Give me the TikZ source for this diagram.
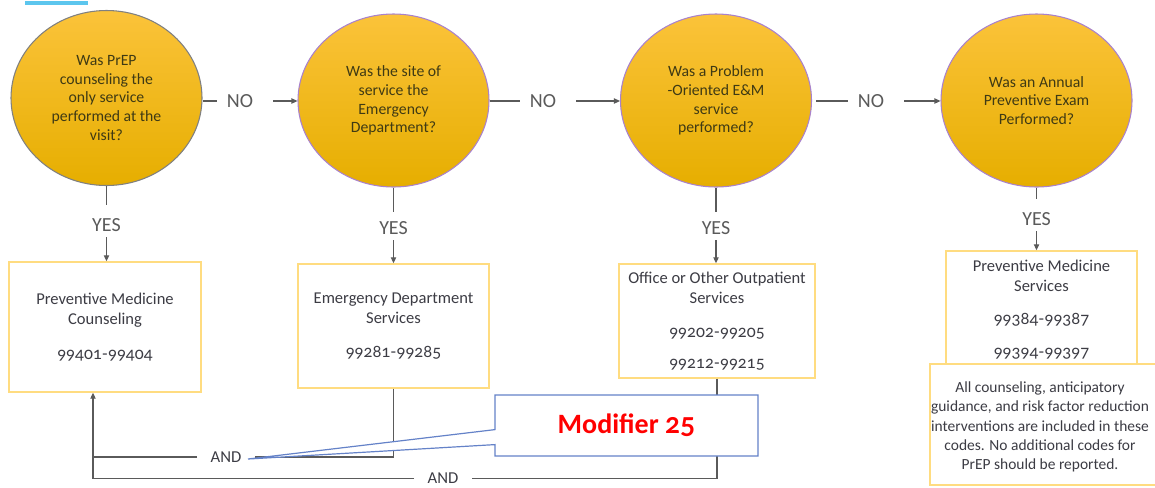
\documentclass[tikz,border=0pt]{standalone}
\usepackage{fontspec}
\setmainfont{Carlito}[Numbers=OldStyle]
\newfontfamily\oldnum{Lato}[Numbers=OldStyle]
\usetikzlibrary{shapes.geometric,shapes.callouts,arrows.meta}
\definecolor{gtop}{HTML}{FBC33A}
\definecolor{gmid}{HTML}{FFC000}
\definecolor{gbot}{HTML}{E6AE00}
\definecolor{qtext}{HTML}{3F3A14}
\definecolor{btext}{HTML}{3C3C44}
\definecolor{bborder}{HTML}{FFDC80}
\definecolor{purp}{HTML}{A982CC}
\definecolor{cgray}{HTML}{808080}
\definecolor{lgray}{HTML}{5A5A5A}
\definecolor{cblue}{HTML}{6482C8}
\definecolor{sky}{HTML}{5CC6EE}
\tikzset{
  question/.style={ellipse, draw=purp, line width=0.8pt, shading=axis,
    top color=gtop, middle color=gmid, bottom color=gbot,
    minimum width=143.25pt, minimum height=129.75pt, inner sep=0pt,
    align=center, text=qtext, font=\fontsize{11.8}{14}\selectfont},
  codebox/.style={rectangle, draw=bborder, line width=1.1pt, fill=white,
    align=center, text=btext, font=\fontsize{12.4}{15}\selectfont, inner sep=0pt},
  answer/.style={text=lgray, font=\fontsize{15}{18}\selectfont, inner sep=0pt},
  andlbl/.style={text=btext, font=\fontsize{12.5}{15}\selectfont, inner xsep=10pt, inner ysep=0pt},
  conn/.style={draw=lgray, line width=0.8pt},
  arr/.style={conn, -{Triangle[length=4.5pt,width=4pt]}},
}
\begin{document}
\begin{tikzpicture}[x=0.75pt,y=-0.75pt]
\useasboundingbox (0,0) rectangle (1155,487);
\draw[sky, line width=3pt] (25,3) -- (88,3);

% questions
\node[question, draw=cgray, minimum height=131.25pt] (c1) at (106.5,98)
  {Was PrEP\\counseling the\\only service\\performed at the\\visit?};
\node[question] (c2) at (393.5,100.5)
  {Was the site of\\service the\\Emergency\\Department?};
\node[question] (c3) at (716,100.5)
  {Was a Problem\\-Oriented E\&M\\service\\performed?};
\node[question] (c4) at (1036.5,100.5)
  {Was an Annual\\Preventive Exam\\Performed?};

% NO labels
\node[answer, inner xsep=7.5pt] (no1) at (240,101) {NO};
\node[answer, inner xsep=7.5pt] (no2) at (543,101) {NO};
\node[answer, inner xsep=7.5pt] (no3) at (871,101) {NO};
\draw[conn] (c1.east |- no1) -- (no1.west);
\draw[arr, shorten <=7.5pt] (no1.east) -- (c2.west |- no1);
\draw[conn] (c2.east |- no2) -- (no2.west);
\draw[arr, shorten <=7.5pt] (no2.east) -- (c3.west |- no2);
\draw[conn, shorten <=3pt] (c3.east |- no3) -- (no3.west);
\draw[arr, shorten <=7.5pt] (no3.east) -- (c4.west |- no3);

% boxes
\node[codebox, minimum width=144pt, minimum height=97.5pt] (b1) at (105,327)
  {Preventive Medicine\\Counseling\\[11pt]{\oldnum 99401-99404}};
\node[codebox, minimum width=143.25pt, minimum height=93pt] (b2) at (393.5,326)
  {Emergency Department\\Services\\[10.5pt]{\oldnum 99281-99285}};
\node[codebox, minimum width=147pt, minimum height=85.5pt] (b3) at (717,321)
  {Office or Other Outpatient\\Services\\[11pt]{\oldnum 99202-99205}\\[8pt]{\oldnum 99212-99215}};
\node[codebox, minimum width=143.25pt, minimum height=88.5pt] (b4) at (1041.5,310)
  {Preventive Medicine\\Services\\[9.75pt]{\oldnum 99384-99387}\\[9.75pt]{\oldnum 99394-99397}};
\node[codebox, minimum width=172.5pt, minimum height=90.75pt] (b5) at (1045,424.5) {};
\node[text=btext, align=center, font=\fontsize{11.6}{14.4}\selectfont, inner sep=0pt] (t5) at (1040,427)
  {All counseling, anticipatory\\guidance, and risk factor reduction\\interventions are included in these\\codes. No additional codes for\\PrEP should be reported.};

% YES labels
\node[answer, inner ysep=4pt] (yes1) at (106.5,225) {YES};
\node[answer, inner ysep=4pt] (yes2) at (393.5,228) {YES};
\node[answer, inner ysep=4pt] (yes3) at (716,228) {YES};
\node[answer, inner ysep=4pt] (yes4) at (1036.5,219) {YES};
\draw[conn, shorten >=6pt] (c1.south) -- (yes1.north);
\draw[arr] (yes1.south) -- (b1.north -| yes1);
\draw[conn, shorten >=3pt] (c2.south) -- (yes2.north);
\draw[arr] (yes2.south) -- (b2.north -| yes2);
\draw[conn, shorten >=3pt] (c3.south) -- (yes3.north);
\draw[arr] (yes3.south) -- (b3.north -| yes3);
\draw[conn, shorten >=6pt] (c4.south) -- (yes4.north);
\draw[arr] (yes4.south) -- (b4.north -| yes4);

% bottom connectors
\node[andlbl] (and1) at (226,457) {AND};
\node[andlbl] (and2) at (443,478.5) {AND};
\coordinate (j1) at (93,457);
\coordinate (j2) at (93,478.5);
\coordinate (tip) at (248,459);
\draw[conn] (b2.south) |- (and1.east);
\draw[conn] (and1.west) -- (j1);
\draw[conn] (b3.south) |- (and2.east);
\draw[conn] (and2.west) -- (j2);
\draw[arr] (j2) -- (b1.south -| j2);

% callout
\node[rectangle callout, draw=cblue, line width=0.9pt, fill=white,
  minimum width=197.25pt, minimum height=45.75pt,
  callout absolute pointer={(tip)}, callout pointer width=11.25pt,
  text=red, font=\fontsize{21}{25}\selectfont\bfseries] (mod) at (626.5,425.5)
  {Modifier {\oldnum\bfseries 25}};
\end{tikzpicture}
\end{document}
